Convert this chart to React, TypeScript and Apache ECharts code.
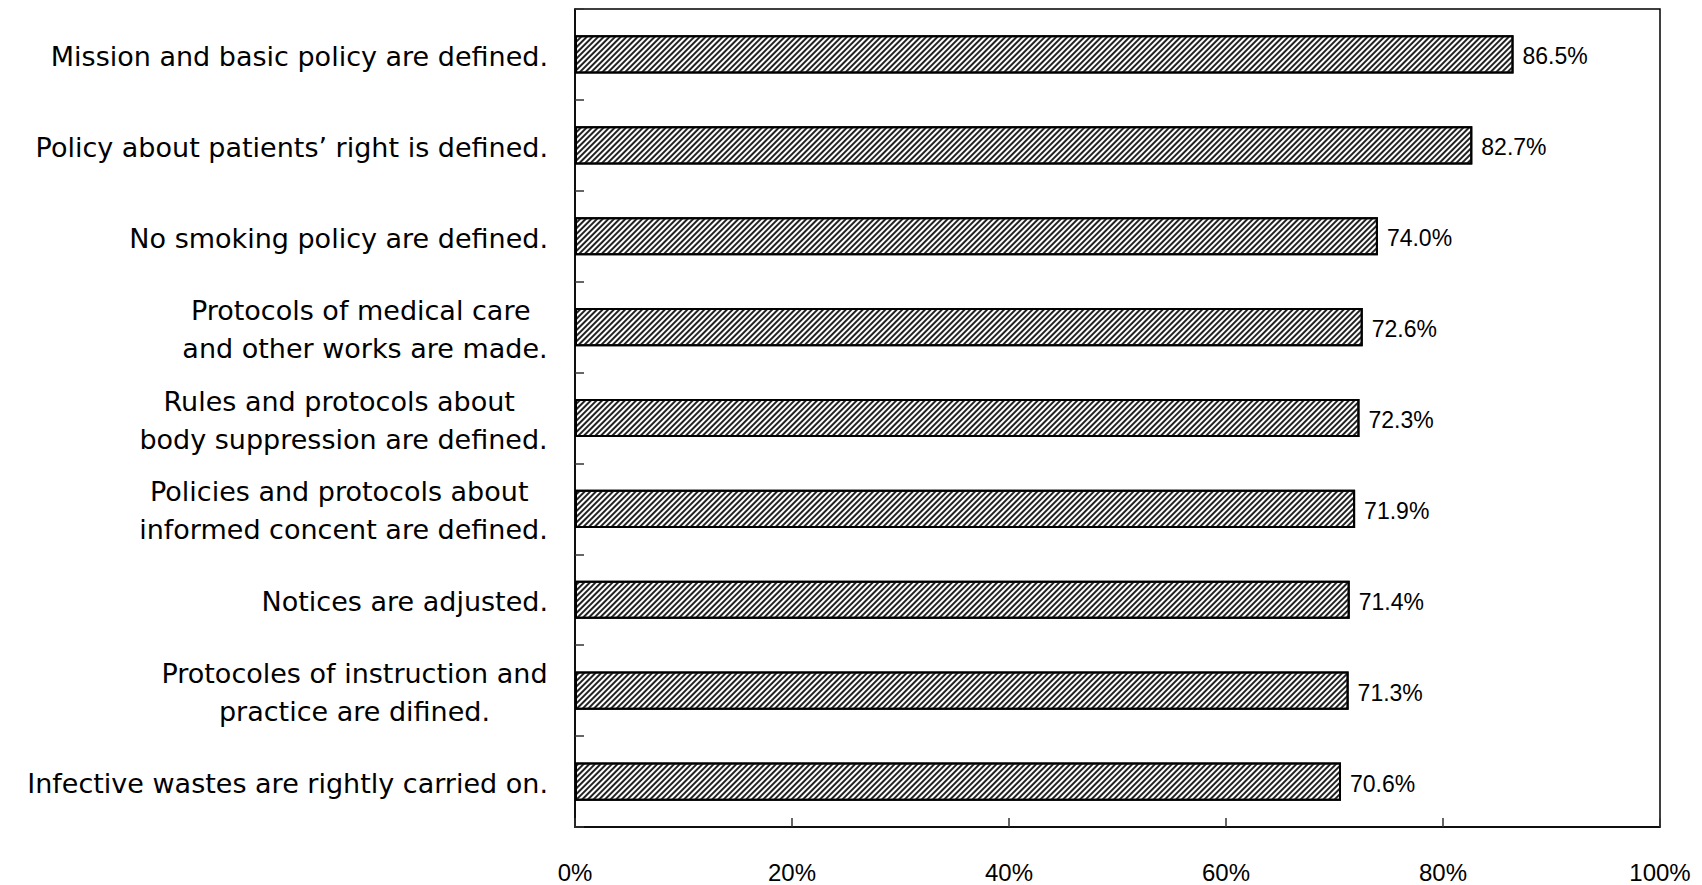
import React, { useEffect, useRef } from "react";
import * as echarts from "echarts";

const categories: string[] = [
  "Mission and basic policy are defined.",
  "Policy about patients’ right is defined.",
  "No smoking policy are defined.",
  "Protocols of medical care \nand other works are made.",
  "Rules and protocols about \nbody suppression are defined.",
  "Policies and protocols about \ninformed concent are defined.",
  "Notices are adjusted.",
  "Protocoles of instruction and\npractice are difined.",
  "Infective wastes are rightly carried on.",
];

const values: number[] = [86.5, 82.7, 74.0, 72.6, 72.3, 71.9, 71.4, 71.3, 70.6];

const xTicks: number[] = [0, 20, 40, 60, 80, 100];

const LABEL_FONT = "'DejaVu Sans', sans-serif";
const LABEL_SIZE = 27;
const NUM_FONT = "'Liberation Sans Narrow', 'Liberation Sans', sans-serif";

export default function App() {
  const ref = useRef<HTMLDivElement>(null);

  useEffect(() => {
    if (!ref.current) return;
    const canvas = document.createElement("canvas");
    const ctx = canvas.getContext("2d")!;
    ctx.font = `${LABEL_SIZE}px ${LABEL_FONT}`;
    const rich: Record<string, any> = {};
    categories.forEach((c, i) => {
      const lines = c.split("\n");
      const w = Math.max(...lines.map((l) => ctx.measureText(l).width));
      rich["r" + i] = {
        width: Math.ceil(w),
        align: "center",
        fontFamily: LABEL_FONT,
        fontSize: LABEL_SIZE,
        lineHeight: 38,
        color: "#000",
      };
    });

    const chart = echarts.init(ref.current, null, { renderer: "svg" });
    chart.setOption({
      animation: false,
      backgroundColor: "#fff",
      grid: {
        left: 575,
        right: 42,
        top: 9,
        bottom: 58,
        show: true,
        borderColor: "#000",
        borderWidth: 1.5,
        containLabel: false,
      },
      xAxis: {
        type: "value",
        min: 0,
        max: 100,
        interval: 20,
        splitLine: { show: false },
        axisLine: { show: true, lineStyle: { color: "#000", width: 1.5 } },
        axisTick: { show: true, inside: true, length: 9, lineStyle: { color: "#333", width: 1.5 } },
        axisLabel: {
          margin: 33,
          fontFamily: NUM_FONT,
          fontSize: 24,
          color: "#000",
          formatter: (v: number) => (xTicks.includes(v) ? v + "%" : ""),
        },
      },
      yAxis: {
        type: "category",
        inverse: true,
        data: categories,
        axisLine: { show: true, lineStyle: { color: "#000", width: 1.5 } },
        axisTick: { show: true, inside: true, length: 9, interval: 0, lineStyle: { color: "#333", width: 1.5 } },
        axisLabel: {
          margin: 27,
          interval: 0,
          padding: [4, 0, 0, 0],
          fontFamily: LABEL_FONT,
          fontSize: LABEL_SIZE,
          color: "#000",
          rich,
          formatter: (v: string, i: number) => {
            const lines = v.split("\n");
            if (lines.length === 1) return v;
            return lines.map((l) => `{r${i}|${l}}`).join("\n");
          },
        },
      },
      series: [
        {
          type: "bar",
          data: values,
          barWidth: "42%",
          itemStyle: {
            color: "#fff",
            borderColor: "#000",
            borderWidth: 2,
            decal: {
              symbol: "rect",
              symbolSize: 1,
              dashArrayX: [[1, 0]],
              dashArrayY: [1.4, 2.0],
              rotation: -Math.PI / 4,
              color: "#222",
            },
          },
          label: {
            show: true,
            position: "right",
            distance: 9,
            offset: [0, 2],
            fontFamily: NUM_FONT,
            fontSize: 23,
            color: "#000",
            formatter: (p: any) => p.value.toFixed(1) + "%",
          },
        },
      ],
    });
    return () => chart.dispose();
  }, []);

  return (
    <div
      ref={ref}
      style={{ position: "fixed", left: 0, top: 0, width: 1702, height: 885, background: "#fff" }}
    />
  );
}
